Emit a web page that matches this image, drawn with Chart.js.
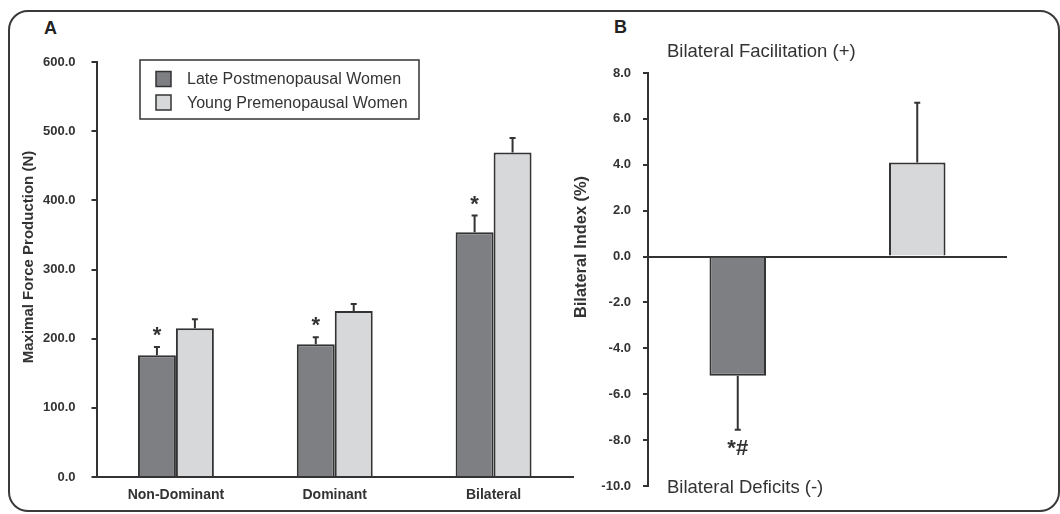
<!DOCTYPE html>
<html>
<head>
<meta charset="utf-8">
<script src="https://cdn.jsdelivr.net/npm/chart.js@4.4.1/dist/chart.umd.min.js"></script>
<style>
  body { margin: 0; width: 1060px; height: 514px; background: #fff; position: relative; overflow: hidden;
         font-family: "Liberation Sans", Arial, sans-serif; color: #333; }
  .frame { position: absolute; left: 8px; top: 10px; width: 1052px; height: 502px; box-sizing: border-box;
           border: 2px solid #3a3a3a; border-radius: 20px; }
  .panel { position: absolute; top: 0; }
  .tag { position: absolute; font-weight: bold; font-size: 18px; color: #222; }
</style>
</head>
<body>
<div class="frame"></div>
<div class="tag" style="left:44px; top:18px;">A</div>
<div class="tag" style="left:614px; top:17px;">B</div>
<div class="panel" style="left:0; width:600px; height:514px;"><canvas id="forceChart"></canvas></div>
<div class="panel" style="left:560px; width:500px; height:514px;"><canvas id="indexChart"></canvas></div>
<script>
// panel A: maximal force
const conditions = ['Non-Dominant', 'Dominant', 'Bilateral'];
const groups = ['Late Postmenopausal Women', 'Young Premenopausal Women'];
const lateForce = [176, 192, 354];
const lateForceErr = [12, 10, 24];
const youngForce = [215, 240, 469];
const youngForceErr = [13, 10, 21];
const lateForceMarks = ['*', '*', '*'];

// panel B: bilateral index
const indexValues = [-5.2, 4.1];
const indexErr = [2.35, 2.6];
const indexMarks = ['*#', ''];

const DARK = '#7e7f83';
const LIGHT = '#d7d8da';
const INK = '#333';
const FONT = '"Liberation Sans", Arial, sans-serif';

// one-sided error bars (away from zero) plus significance marks
const errorBars = {
  id: 'errorBars',
  afterDatasetsDraw(chart) {
    const ctx = chart.ctx;
    const y = chart.scales.y;
    chart.data.datasets.forEach((ds, di) => {
      const meta = chart.getDatasetMeta(di);
      meta.data.forEach((bar, i) => {
        const v = ds.data[i];
        const e = ds.errors[i];
        const end = v >= 0 ? v + e : v - e;
        const py0 = y.getPixelForValue(v);
        const py1 = y.getPixelForValue(end);
        ctx.save();
        ctx.strokeStyle = INK;
        ctx.lineWidth = 2;
        ctx.beginPath();
        ctx.moveTo(bar.x, py0);
        ctx.lineTo(bar.x, py1);
        ctx.moveTo(bar.x - 3, py1);
        ctx.lineTo(bar.x + 3, py1);
        ctx.stroke();
        const mark = ds.marks ? ds.marks[i] : '';
        if (mark) {
          ctx.fillStyle = INK;
          ctx.textAlign = 'center';
          ctx.textBaseline = 'middle';
          ctx.font = 'bold 22px ' + FONT;
          ctx.fillText(mark, bar.x, v >= 0 ? py1 - 11 : py1 + 19);
        }
        ctx.restore();
      });
    });
  }
};

// rotated y-axis title at a fixed spot
const yTitle = {
  id: 'yTitle',
  afterDraw(chart, args, opts) {
    const ctx = chart.ctx;
    ctx.save();
    ctx.translate(opts.x, opts.y);
    ctx.rotate(-Math.PI / 2);
    ctx.fillStyle = INK;
    ctx.font = 'bold ' + opts.size + 'px ' + FONT;
    ctx.textAlign = 'center';
    ctx.textBaseline = 'middle';
    ctx.fillText(opts.text, 0, 0);
    ctx.restore();
  }
};

// boxed legend inside panel A
const boxLegend = {
  id: 'boxLegend',
  afterDraw(chart) {
    const ctx = chart.ctx;
    ctx.save();
    ctx.strokeStyle = INK;
    ctx.lineWidth = 1.5;
    ctx.strokeRect(140, 60, 279, 59);
    chart.data.datasets.forEach((ds, i) => {
      const cy = 79 + i * 23.5;
      ctx.fillStyle = ds.backgroundColor;
      ctx.fillRect(156, cy - 7.5, 15, 15);
      ctx.lineWidth = 1.5;
      ctx.strokeRect(156, cy - 7.5, 15, 15);
      ctx.fillStyle = INK;
      ctx.font = '16px ' + FONT;
      ctx.textBaseline = 'middle';
      ctx.fillText(ds.label, 187, cy + 1);
    });
    ctx.restore();
  }
};

// free text labels in panel B
const sideNotes = {
  id: 'sideNotes',
  afterDraw(chart) {
    const ctx = chart.ctx;
    ctx.save();
    ctx.fillStyle = INK;
    ctx.font = '18.5px ' + FONT;
    ctx.textBaseline = 'middle';
    ctx.fillText('Bilateral Facilitation (+)', 107, 52);
    ctx.fillText('Bilateral Deficits (-)', 107, 488);
    ctx.restore();
  }
};

Chart.defaults.font.family = FONT;
Chart.defaults.color = INK;

new Chart(document.getElementById('forceChart'), {
  type: 'bar',
  data: {
    labels: conditions,
    datasets: [
      { label: groups[0], data: lateForce, errors: lateForceErr, marks: lateForceMarks,
        backgroundColor: DARK, borderColor: INK, borderWidth: 2 },
      { label: groups[1], data: youngForce, errors: youngForceErr,
        backgroundColor: LIGHT, borderColor: INK, borderWidth: 2 }
    ]
  },
  options: {
    responsive: true,
    maintainAspectRatio: false,
    animation: false,
    layout: { padding: { left: 0, right: 27, top: 62, bottom: 0 } },
    datasets: { bar: { categoryPercentage: 0.478, barPercentage: 1 } },
    plugins: {
      legend: { display: false },
      tooltip: { enabled: false },
      yTitle: { text: 'Maximal Force Production (N)', x: 29, y: 257, size: 15 }
    },
    scales: {
      x: {
        grid: { display: false, drawTicks: false },
        border: { color: INK, width: 2 },
        ticks: { padding: 10, font: { size: 14, weight: 'bold' }, color: INK },
        afterFit: s => { s.height = 37; }
      },
      y: {
        min: 0, max: 600,
        grid: { drawOnChartArea: false, tickLength: 5, color: INK, lineWidth: 2 },
        border: { color: INK, width: 2 },
        ticks: { stepSize: 100, padding: 16, font: { size: 13, weight: 'bold' }, color: INK,
                 callback: v => v.toFixed(1) },
        afterFit: s => { s.width = 96.5; }
      }
    }
  },
  plugins: [errorBars, boxLegend, yTitle]
});

new Chart(document.getElementById('indexChart'), {
  type: 'bar',
  data: {
    labels: groups,
    datasets: [
      { label: 'Bilateral Index', data: indexValues, errors: indexErr, marks: indexMarks,
        backgroundColor: [DARK, LIGHT], borderColor: INK, borderWidth: 2,
        barPercentage: 0.315, categoryPercentage: 1 }
    ]
  },
  options: {
    responsive: true,
    maintainAspectRatio: false,
    animation: false,
    layout: { padding: { left: 0, right: 53, top: 73, bottom: 28 } },
    plugins: {
      legend: { display: false },
      tooltip: { enabled: false },
      yTitle: { text: 'Bilateral Index (%)', x: 21, y: 247, size: 16.4 }
    },
    scales: {
      x: { display: false },
      y: {
        min: -10, max: 8,
        grid: {
          color: c => c.tick && c.tick.value === 0 ? INK : 'rgba(0,0,0,0)',
          tickColor: INK, tickLength: 5, lineWidth: 2
        },
        border: { color: INK, width: 2 },
        ticks: { stepSize: 2, padding: 12, font: { size: 13, weight: 'bold' }, color: INK,
                 callback: v => v.toFixed(1) },
        afterFit: s => { s.width = 88; }
      }
    }
  },
  plugins: [errorBars, sideNotes, yTitle]
});
</script>
</body>
</html>
